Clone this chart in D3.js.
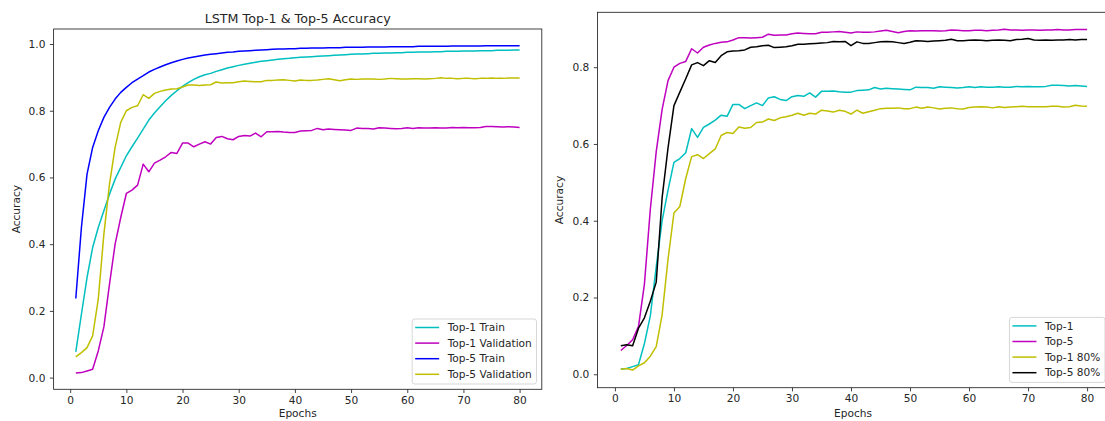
<!DOCTYPE html>
<html>
<head>
<meta charset="utf-8">
<script src="https://cdn.jsdelivr.net/npm/d3@7"></script>
<style>
  body { margin: 0; background: #fff; }
  svg { display: block; font-family: "DejaVu Sans", sans-serif; }
</style>
</head>
<body>
<div id="chart"></div>
<script>
// epochs 1..80 on the x axis
const epochs = d3.range(1, 81);

// left panel: LSTM train / validation
const top1Train = [0.077,0.19,0.30,0.39,0.45,0.50,0.55,0.595,0.63,0.665,
  0.692,0.718,0.745,0.772,0.793,0.812,0.83,0.846,0.86,0.873,
  0.884,0.894,0.902,0.908,0.912,0.918,0.923,0.928,0.932,0.936,
  0.939,0.942,0.945,0.948,0.95,0.952,0.954,0.956,0.957,0.959,
  0.96,0.961,0.962,0.963,0.964,0.965,0.966,0.967,0.968,0.969,
  0.97,0.97,0.971,0.972,0.972,0.973,0.973,0.974,0.974,0.975,
  0.975,0.976,0.976,0.976,0.977,0.977,0.978,0.978,0.978,0.979,
  0.979,0.979,0.98,0.98,0.98,0.981,0.981,0.981,0.982,0.982];

const top5Train = [0.237,0.45,0.61,0.69,0.74,0.78,0.81,0.835,0.855,0.87,
  0.884,0.895,0.905,0.916,0.924,0.931,0.938,0.944,0.949,0.954,
  0.958,0.961,0.964,0.967,0.969,0.971,0.973,0.975,0.976,0.978,
  0.979,0.98,0.981,0.982,0.983,0.984,0.985,0.985,0.986,0.986,
  0.987,0.987,0.988,0.988,0.988,0.989,0.989,0.989,0.99,0.99,
  0.99,0.99,0.991,0.991,0.991,0.991,0.992,0.992,0.992,0.992,
  0.992,0.993,0.993,0.993,0.993,0.993,0.993,0.994,0.994,0.994,
  0.994,0.994,0.994,0.995,0.995,0.995,0.995,0.995,0.995,0.995];

// validation curves (also the "Top-1" / "Top-5" curves of the right panel)
const top1Val = [0.014,0.015,0.02,0.025,0.08,0.152,0.28,0.40,0.48,0.552,
  0.562,0.577,0.64,0.617,0.643,0.652,0.662,0.675,0.672,0.703,
  0.703,0.692,0.70,0.707,0.70,0.72,0.723,0.716,0.713,0.723,
  0.726,0.724,0.733,0.722,0.737,0.737,0.738,0.736,0.735,0.735,
  0.739,0.74,0.741,0.747,0.743,0.745,0.744,0.743,0.742,0.741,
  0.748,0.747,0.747,0.745,0.749,0.748,0.747,0.746,0.747,0.749,
  0.747,0.749,0.748,0.748,0.749,0.748,0.748,0.75,0.749,0.75,
  0.749,0.749,0.75,0.753,0.753,0.752,0.751,0.752,0.751,0.75];

const top5Val = [0.062,0.075,0.09,0.125,0.235,0.43,0.58,0.69,0.765,0.80,
  0.81,0.815,0.848,0.837,0.852,0.858,0.862,0.865,0.866,0.871,
  0.877,0.877,0.876,0.877,0.878,0.886,0.883,0.884,0.884,0.887,
  0.889,0.888,0.887,0.887,0.891,0.891,0.892,0.893,0.891,0.889,
  0.892,0.891,0.891,0.892,0.894,0.896,0.893,0.89,0.893,0.895,
  0.894,0.895,0.895,0.895,0.894,0.895,0.897,0.896,0.895,0.895,
  0.896,0.896,0.895,0.896,0.897,0.899,0.897,0.897,0.896,0.897,
  0.897,0.896,0.897,0.897,0.898,0.897,0.897,0.898,0.898,0.898];

// right panel: 80% data runs
const top1At80 = [0.013,0.015,0.011,0.022,0.03,0.047,0.072,0.155,0.30,0.42,
  0.437,0.51,0.567,0.572,0.562,0.575,0.587,0.622,0.63,0.627,
  0.644,0.641,0.643,0.656,0.657,0.665,0.661,0.668,0.671,0.675,
  0.68,0.675,0.68,0.678,0.688,0.686,0.683,0.688,0.685,0.678,
  0.688,0.68,0.684,0.688,0.692,0.693,0.693,0.694,0.692,0.692,
  0.696,0.693,0.696,0.694,0.691,0.693,0.694,0.692,0.691,0.695,
  0.696,0.697,0.696,0.694,0.697,0.695,0.696,0.697,0.698,0.697,
  0.697,0.697,0.697,0.698,0.698,0.696,0.697,0.701,0.699,0.698];

const top5At80 = [0.074,0.077,0.074,0.12,0.147,0.19,0.24,0.46,0.59,0.70,
  0.735,0.77,0.806,0.812,0.804,0.817,0.812,0.83,0.84,0.842,
  0.843,0.845,0.852,0.853,0.856,0.857,0.851,0.852,0.853,0.856,
  0.86,0.86,0.861,0.862,0.863,0.864,0.867,0.866,0.867,0.856,
  0.866,0.862,0.862,0.864,0.866,0.867,0.866,0.864,0.862,0.865,
  0.869,0.868,0.867,0.868,0.869,0.87,0.873,0.869,0.869,0.87,
  0.871,0.87,0.869,0.87,0.871,0.87,0.869,0.872,0.873,0.875,
  0.871,0.87,0.871,0.87,0.871,0.871,0.872,0.871,0.872,0.872];

const xTicks = [0, 10, 20, 30, 40, 50, 60, 70, 80];
const leftYTicks = [0, 0.2, 0.4, 0.6, 0.8, 1.0];
const rightYTicks = [0, 0.2, 0.4, 0.6, 0.8];

const fs = 10.6;
const svg = d3.select("#chart").append("svg").attr("width", 1105).attr("height", 421);

function panel(p) {
  const x = d3.scaleLinear().domain([-2.95, 83.95]).range([p.x0, p.x1]);
  const y = d3.scaleLinear().domain(p.yDomain).range([p.y1, p.y0]);
  const g = svg.append("g");

  // series
  const line = d3.line().x((d, i) => x(epochs[i])).y(d => y(d));
  p.series.forEach(s => {
    g.append("path")
      .attr("d", line(s.values))
      .attr("fill", "none")
      .attr("stroke", s.color)
      .attr("stroke-width", 1.5)
      .attr("stroke-linejoin", "round");
  });

  // axes
  const ax = g.append("g").attr("transform", `translate(0,${p.y1})`)
    .call(d3.axisBottom(x).tickValues(xTicks).tickFormat(d3.format("d"))
      .tickSize(3.7).tickSizeOuter(0).tickPadding(3.5));
  const ay = g.append("g").attr("transform", `translate(${p.x0},0)`)
    .call(d3.axisLeft(y).tickValues(p.yTicks).tickFormat(d3.format(".1f"))
      .tickSize(3.7).tickSizeOuter(0).tickPadding(4.5));
  [ax, ay].forEach(a => {
    a.select(".domain").remove();
    a.selectAll(".tick line").attr("stroke", "#222").attr("stroke-width", 0.85);
    a.selectAll(".tick text").attr("fill", "#262626").style("font-size", fs + "px")
      .style("font-family", '"DejaVu Sans", sans-serif');
  });

  // frame
  g.append("rect")
    .attr("x", p.x0).attr("y", p.y0)
    .attr("width", p.x1 - p.x0).attr("height", p.y1 - p.y0)
    .attr("fill", "none").attr("stroke", "#222").attr("stroke-width", 0.85);

  if (p.title) {
    g.append("text").attr("x", (p.x0 + p.x1) / 2).attr("y", 22.5)
      .attr("text-anchor", "middle").attr("fill", "#262626")
      .style("font-size", "12.7px").text(p.title);
  }
  g.append("text").attr("x", p.xLabelX).attr("y", 417)
    .attr("text-anchor", "middle").attr("fill", "#262626")
    .style("font-size", fs + "px").text("Epochs");
  g.append("text")
    .attr("transform", `translate(${p.yLabelX},${(p.y0 + p.y1) / 2}) rotate(-90)`)
    .attr("text-anchor", "middle").attr("fill", "#262626")
    .style("font-size", fs + "px").text("Accuracy");

  // legend, lower right
  const lg = g.append("g");
  const box = lg.append("rect").attr("rx", 2.5)
    .attr("fill", "#fff").attr("fill-opacity", 0.8)
    .attr("stroke", "#d0d0d0").attr("stroke-width", 0.85);
  let maxW = 0;
  const rows = p.series.map((s, i) => {
    const t = lg.append("text").attr("fill", "#262626")
      .style("font-size", fs + "px").attr("dy", "0.35em").text(s.name);
    maxW = Math.max(maxW, t.node().getComputedTextLength());
    return { s, t, i };
  });
  const w = 4.2 + 24 + 7.5 + maxW + 4.5;
  const h = 65;
  const right = Math.min(p.x1 - 5.3, 1105);
  const left = right - w;
  const top = p.y1 - 5.3 - h;
  box.attr("x", left).attr("y", top).attr("width", w).attr("height", h);
  rows.forEach(r => {
    const cy = top + 8.5 + r.i * 15.6;
    lg.append("line").attr("x1", left + 3).attr("x2", left + 27)
      .attr("y1", cy).attr("y2", cy)
      .attr("stroke", r.s.color).attr("stroke-width", 1.5);
    r.t.attr("x", left + 35.5).attr("y", cy);
  });
}

panel({
  x0: 53.6, x1: 541.8, y0: 29, y1: 389.3,
  yDomain: [-0.035, 1.045], yTicks: leftYTicks,
  title: "LSTM Top-1 & Top-5 Accuracy",
  xLabelX: 297.7, yLabelX: 20,
  series: [
    { name: "Top-1 Train", values: top1Train, color: "#00bfbf" },
    { name: "Top-1 Validation", values: top1Val, color: "#bf00bf" },
    { name: "Top-5 Train", values: top5Train, color: "#0000ff" },
    { name: "Top-5 Validation", values: top5Val, color: "#bfbf00" }
  ]
});

panel({
  x0: 597.5, x1: 1110.4, y0: 12.3, y1: 387.7,
  yDomain: [-0.035, 0.943], yTicks: rightYTicks,
  title: null,
  xLabelX: 853, yLabelX: 563,
  series: [
    { name: "Top-1", values: top1Val, color: "#00bfbf" },
    { name: "Top-5", values: top5Val, color: "#bf00bf" },
    { name: "Top-1 80%", values: top1At80, color: "#bfbf00" },
    { name: "Top-5 80%", values: top5At80, color: "#000000" }
  ]
});
</script>
</body>
</html>
